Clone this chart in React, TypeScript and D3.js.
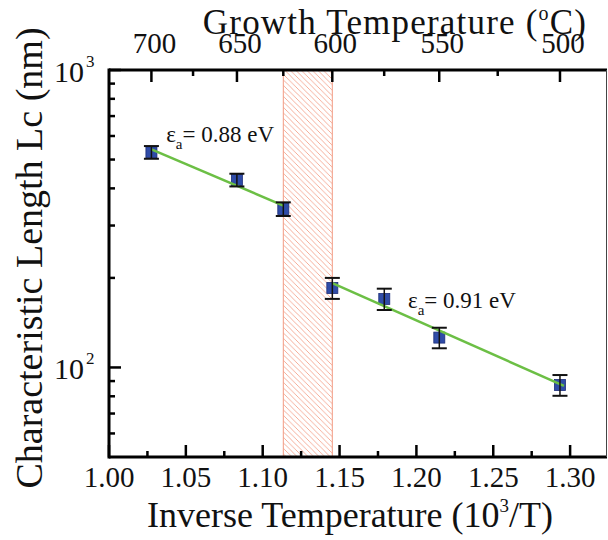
import React from "react";
import * as d3 from "d3";

// ---- data ----
const invTemp = [1.0276, 1.0832, 1.1134, 1.1453, 1.1791, 1.2149, 1.2934];
const lcValues = [529, 427, 341, 185, 170, 126, 87.3];
const lcErrors = [26, 21, 18, 15, 14, 10, 7];
const fit1X = [1.0276, 1.1134];
const fit1Y = [541, 350];
const fit2X = [1.1453, 1.296];
const fit2Y = [192, 86.7];
const fitLabels = ["= 0.88 eV", "= 0.91 eV"];
const xMajorTicks = [1.0, 1.05, 1.1, 1.15, 1.2, 1.25, 1.3];
const xMinorTicks = [1.025, 1.075, 1.125, 1.175, 1.225, 1.275];
const topMajorTicks = [700, 650, 600, 550, 500];
const topMinorTicks = [675, 625, 575, 525];
const yMajorTicks = [100, 1000];
const yMinorTicks = [60, 70, 80, 90, 200, 300, 400, 500, 600, 700, 800, 900];
const hatchTemps = [625, 600];

const toInv = (t: number) => 1000 / (t + 273.15);

const W = 608;
const H = 540;
const FONT = "'Liberation Serif', 'Times New Roman', serif";

export default function App() {
  const x = d3.scaleLinear().domain([1.0, 1.324]).range([109, 607]);
  const y = d3.scaleLog().domain([50, 1000]).range([457, 70]);
  const x0 = x.range()[0];
  const x1 = x.range()[1];
  const yb = y.range()[0];
  const yt = y.range()[1];
  const line = d3
    .line<[number, number]>()
    .x((d) => x(d[0]))
    .y((d) => y(d[1]));
  const fit1 = fit1X.map((v, i) => [v, fit1Y[i]] as [number, number]);
  const fit2 = fit2X.map((v, i) => [v, fit2Y[i]] as [number, number]);
  const hx0 = x(toInv(hatchTemps[0]));
  const hx1 = x(toInv(hatchTemps[1]));
  const major = 12;
  const minor = 6;
  const green = "#6cbf45";
  const hatchColor = "#f29a82";

  return (
    <svg
      width={W}
      height={H}
      style={{ position: "absolute", left: 0, top: 0, background: "#fff" }}
      fontFamily={FONT}
    >
      <defs>
        <pattern id="hatch" patternUnits="userSpaceOnUse" width={5.5} height={5.5}>
          <path d="M-1,-1 L6.5,6.5 M-1,4.5 L1,6.5 M4.5,-1 L6.5,1" stroke={hatchColor} strokeWidth={0.8} />
        </pattern>
      </defs>
      <rect x={0} y={0} width={W} height={H} fill="#fff" />
      {/* hatched band */}
      <rect x={hx0} y={yt} width={hx1 - hx0} height={yb - yt} fill="url(#hatch)" />
      <line x1={hx0} x2={hx0} y1={yt} y2={yb} stroke={hatchColor} strokeWidth={1} />
      <line x1={hx1} x2={hx1} y1={yt} y2={yb} stroke={hatchColor} strokeWidth={1} />

      {/* markers */}
      {invTemp.map((v, i) => (
        <rect
          key={"m" + i}
          x={x(v) - 5.5}
          y={y(lcValues[i]) - 5.5}
          width={11}
          height={11}
          fill="#2f4ca8"
          stroke="#1c2d78"
          strokeWidth={0.8}
        />
      ))}
      {/* fit lines */}
      <path d={line(fit1) || ""} stroke={green} strokeWidth={2.5} fill="none" />
      <path d={line(fit2) || ""} stroke={green} strokeWidth={2.5} fill="none" />
      {/* error bars */}
      {invTemp.map((v, i) => {
        const cx = x(v);
        const hi = y(lcValues[i] + lcErrors[i]);
        const lo = y(lcValues[i] - lcErrors[i]);
        return (
          <g key={"e" + i} stroke="#111" strokeWidth={2}>
            <line x1={cx} x2={cx} y1={hi} y2={lo} strokeWidth={1.5} />
            <line x1={cx - 7.5} x2={cx + 7.5} y1={hi} y2={hi} />
            <line x1={cx - 7.5} x2={cx + 7.5} y1={lo} y2={lo} />
          </g>
        );
      })}

      {/* annotations */}
      <text x={x(1.0372)} y={y(574)} fontSize={23} fill="#111">
        ε
        <tspan fontSize={15} dy={7}>a</tspan>
        <tspan dy={-7}>{fitLabels[0]}</tspan>
      </text>
      <text x={x(1.1945)} y={y(170) + 9} fontSize={23} fill="#111">
        ε
        <tspan fontSize={15} dy={7}>a</tspan>
        <tspan dy={-7}>{fitLabels[1]}</tspan>
      </text>

      {/* axes frame */}
      <line x1={x0} x2={x1} y1={yb} y2={yb} stroke="#000" strokeWidth={3} />
      <line x1={x0} x2={x1} y1={yt} y2={yt} stroke="#000" strokeWidth={3} />
      <line x1={x0} x2={x0} y1={yt - 1.5} y2={yb + 1.5} stroke="#000" strokeWidth={3} />
      <line x1={x1 - 0.5} x2={x1 - 0.5} y1={yt} y2={yb} stroke="#444" strokeWidth={1} />

      {/* bottom ticks */}
      {xMajorTicks.map((t) => (
        <g key={"xb" + t}>
          <line x1={x(t)} x2={x(t)} y1={yb} y2={yb - major} stroke="#000" strokeWidth={2.5} />
          <text x={x(t)} y={487} fontSize={29} textAnchor="middle" fill="#111">
            {t.toFixed(2)}
          </text>
        </g>
      ))}
      {xMinorTicks.map((t) => (
        <line key={"xm" + t} x1={x(t)} x2={x(t)} y1={yb} y2={yb - minor} stroke="#000" strokeWidth={2.5} />
      ))}

      {/* top ticks */}
      {topMajorTicks.map((t) => (
        <g key={"xt" + t}>
          <line x1={x(toInv(t))} x2={x(toInv(t))} y1={yt} y2={yt + major} stroke="#000" strokeWidth={2.5} />
          <text x={x(toInv(t)) + 3} y={53} fontSize={29} textAnchor="middle" fill="#111">
            {t}
          </text>
        </g>
      ))}
      {topMinorTicks.map((t) => (
        <line key={"xtm" + t} x1={x(toInv(t))} x2={x(toInv(t))} y1={yt} y2={yt + minor} stroke="#000" strokeWidth={2.5} />
      ))}

      {/* left ticks */}
      {yMajorTicks.map((t) => (
        <g key={"y" + t}>
          <line x1={x0} x2={x0 + major} y1={y(t)} y2={y(t)} stroke="#000" strokeWidth={2.5} />
          <text x={84} y={y(t) + 12} fontSize={30} textAnchor="end" fill="#111">
            10
          </text>
          <text x={86} y={y(t) - 3} fontSize={17} fill="#111">
            {Math.round(Math.log10(t))}
          </text>
        </g>
      ))}
      {yMinorTicks.map((t) => (
        <line key={"ym" + t} x1={x0} x2={x0 + minor} y1={y(t)} y2={y(t)} stroke="#000" strokeWidth={2.5} />
      ))}

      {/* titles */}
      <text x={395} y={34} fontSize={35} letterSpacing={1.2} textAnchor="middle" fill="#111">
        Growth Temperature (
        <tspan fontSize={20} dy={-14}>o</tspan>
        <tspan dy={14}>C)</tspan>
      </text>
      <text x={350} y={527} fontSize={36} textAnchor="middle" fill="#111">
        Inverse Temperature (10
        <tspan fontSize={19} dy={-15}>3</tspan>
        <tspan dy={15}>/T)</tspan>
      </text>
      <text
        transform="translate(42,258) rotate(-90)"
        fontSize={38}
        textAnchor="middle"
        fill="#111"
      >
        Characteristic Length Lc (nm)
      </text>
    </svg>
  );
}
